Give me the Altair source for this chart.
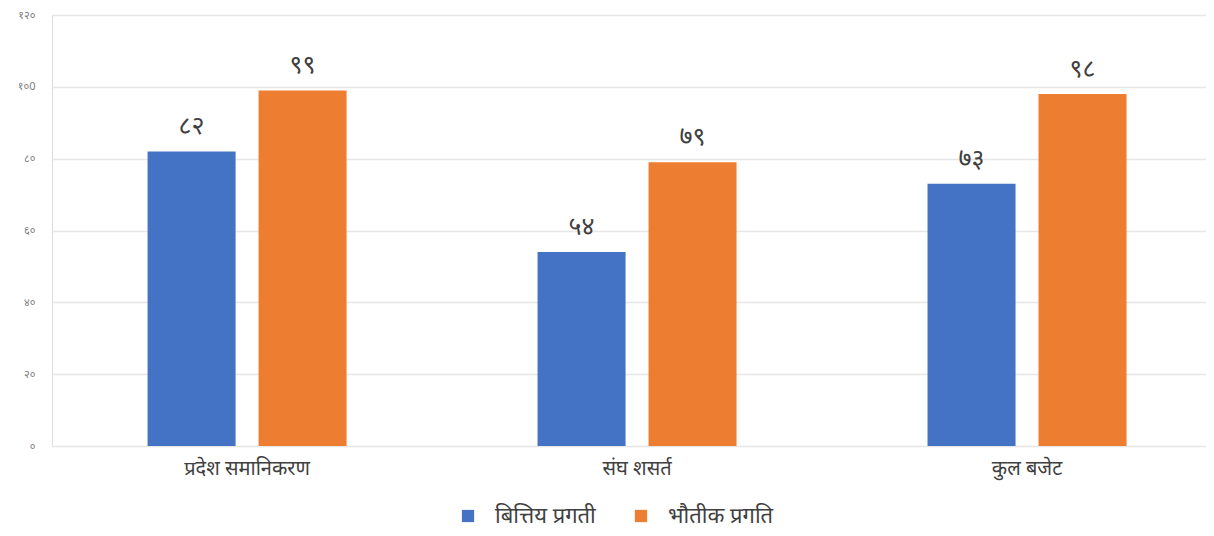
import altair as alt
import pandas as pd

categories = ["प्रदेश समानिकरण", "संघ शसर्त", "कुल बजेट"]
series = ["बित्तिय प्रगती", "भौतीक प्रगति"]
financial = [82, 54, 73]
physical = [99, 79, 98]
colors = ["#4472C4", "#ED7D31"]

DEV = str.maketrans("0123456789", "०१२३४५६७८९")

rows = []
for i, c in enumerate(categories):
    for s, vals in zip(series, [financial, physical]):
        rows.append({"cat": c, "series": s, "value": vals[i],
                     "label": str(vals[i]).translate(DEV)})
df = pd.DataFrame(rows)

font = "Noto Sans"

x = alt.X("cat:N", sort=categories, title=None,
          scale=alt.Scale(paddingInner=0.4897, paddingOuter=0.2244, align=0.546),
          axis=alt.Axis(labelAngle=0, labelFontSize=20, labelColor="#404040",
                        labelFont=font, domain=False, ticks=False, grid=False,
                        labelPadding=12, labelLimit=0))
xo = alt.XOffset("series:N", sort=series, scale=alt.Scale(paddingInner=0.207))
y = alt.Y("value:Q", title=None,
          scale=alt.Scale(domain=[0, 120], nice=False),
          axis=alt.Axis(values=[0, 20, 40, 60, 80, 100, 120], domain=False, ticks=False,
                        labelFontSize=11, labelColor="#7f7f7f", labelFont=font,
                        labelPadding=17, gridColor="#e6e6e6", gridWidth=1.5,
                        labelExpr="replace(replace(replace(replace(replace(replace(replace(datum.label,'0','०'),'1','१'),'2','२'),'4','४'),'6','६'),'8','८'),',','')"))
color = alt.Color("series:N", sort=series,
                  scale=alt.Scale(domain=series, range=colors),
                  legend=alt.Legend(title=None, orient="none", legendX=405, legendY=490,
                                    direction="horizontal", symbolType="square",
                                    symbolSize=150, symbolStrokeWidth=0,
                                    labelFontSize=22, labelColor="#404040", labelFont=font,
                                    columnPadding=34, labelOffset=16, labelLimit=0))

bars = alt.Chart(df).mark_bar().encode(x=x, xOffset=xo, y=y, color=color)
text = alt.Chart(df).mark_text(baseline="bottom", dy=-12, fontSize=25,
                               color="#404040", font=font).encode(
    x=x, xOffset=xo, y=y, text="label:N")

chart = (bars + text).properties(
    width=1154, height=431,
    autosize=alt.AutoSizeParams(type="none"),
    padding={"left": 44, "top": 7, "right": 0, "bottom": 82},
).configure_view(strokeWidth=0, stroke="transparent", fill="white").configure_axis(
    domain=False, ticks=False
).configure_axisX(grid=False).configure(background="white")

chart.save("out.html", embed_options={"renderer": "svg", "actions": False})
